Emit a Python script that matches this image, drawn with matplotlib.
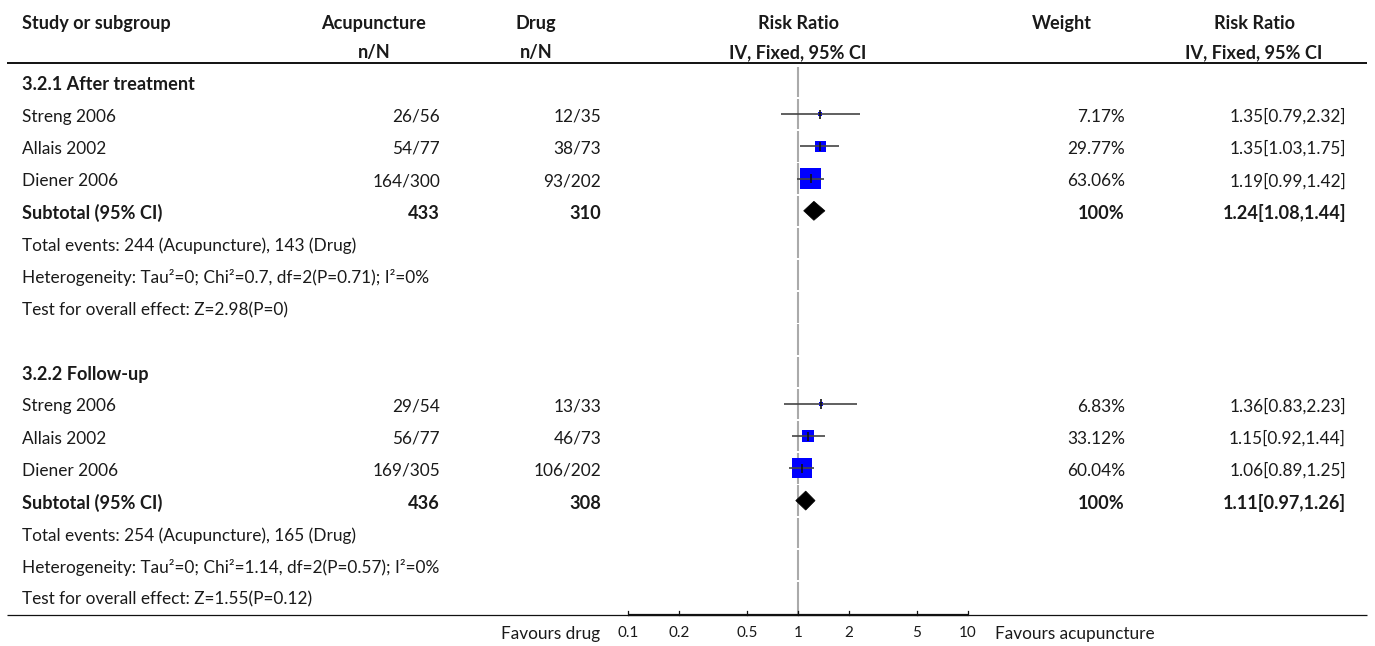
import matplotlib
matplotlib.use("Agg")
import matplotlib.pyplot as plt
import matplotlib.transforms as mtransforms
from matplotlib.patches import Polygon
import numpy as np

plt.rcParams['font.family'] = ['Lato', 'DejaVu Sans']

# ---------------- data ----------------
groups = ["3.2.1 After treatment", "3.2.2 Follow-up"]
studies = [["Streng 2006", "Allais 2002", "Diener 2006"],
           ["Streng 2006", "Allais 2002", "Diener 2006"]]
acu_nN = [["26/56", "54/77", "164/300"], ["29/54", "56/77", "169/305"]]
drug_nN = [["12/35", "38/73", "93/202"], ["13/33", "46/73", "106/202"]]
rr = [[1.35, 1.35, 1.19], [1.36, 1.15, 1.06]]
rr_lo = [[0.79, 1.03, 0.99], [0.83, 0.92, 0.89]]
rr_hi = [[2.32, 1.75, 1.42], [2.23, 1.44, 1.25]]
weights = [[7.17, 29.77, 63.06], [6.83, 33.12, 60.04]]
acu_total = [433, 436]
drug_total = [310, 308]
sub_rr = [1.24, 1.11]
sub_lo = [1.08, 0.97]
sub_hi = [1.44, 1.26]
total_events = ["Total events: 244 (Acupuncture), 143 (Drug)",
                "Total events: 254 (Acupuncture), 165 (Drug)"]
heterogeneity = ["Heterogeneity: Tau²=0; Chi²=0.7, df=2(P=0.71); I²=0%",
                 "Heterogeneity: Tau²=0; Chi²=1.14, df=2(P=0.57); I²=0%"]
overall = ["Test for overall effect: Z=2.98(P=0)",
           "Test for overall effect: Z=1.55(P=0.12)"]
ticks = [0.1, 0.2, 0.5, 1, 2, 5, 10]
tick_labels = ["0.1", "0.2", "0.5", "1", "2", "5", "10"]

# ---------------- layout ----------------
W, H = 1375, 646
DPI = 100
fig = plt.figure(figsize=(W / DPI, H / DPI), dpi=DPI)
ax = fig.add_axes([0, 0, 1, 1])
ax.set_xscale('log')
x_one_px, px_per_dec = 798.0, 170.0
ax.set_xlim(10 ** (-x_one_px / px_per_dec), 10 ** ((W - x_one_px) / px_per_dec))
row0_px, row_h = 82.0, 32.2
ax.set_ylim((H - row0_px) / row_h, -row0_px / row_h)
ax.axis('off')

tr = mtransforms.blended_transform_factory(fig.transFigure, ax.transData)
def px(x):
    return x / W

FS = 12.4
FSB = 13.1
TXT = '#1a1a1a'
TEXT_SHIFT = 2.5 / row_h

def put(x, y, s, ha='left', bold=False, size=None):
    if size is None:
        size = FSB if bold else FS
    ax.text(px(x), y + TEXT_SHIFT, s, transform=tr, ha=ha, va='center', fontsize=size,
            fontweight='bold' if bold else 'normal', color=TXT)

# headers
hy1, hy2 = (21 - row0_px) / row_h, (50 - row0_px) / row_h
put(22, hy1, "Study or subgroup", bold=True)
put(374, hy1, "Acupuncture", ha='center', bold=True)
put(374, hy2, "n/N", ha='center', bold=True)
put(536, hy1, "Drug", ha='center', bold=True)
put(536, hy2, "n/N", ha='center', bold=True)
put(798, hy1, "Risk Ratio", ha='center', bold=True)
put(798, hy2, "IV, Fixed, 95% CI", ha='center', bold=True)
put(1062, hy1, "Weight", ha='center', bold=True)
put(1254, hy1, "Risk Ratio", ha='center', bold=True)
put(1254, hy2, "IV, Fixed, 95% CI", ha='center', bold=True)

line_y = (63 - row0_px) / row_h
ax.plot([px(7), px(1367)], [line_y, line_y], transform=tr, color='#111111', lw=1.4,
        solid_capstyle='butt')

# rows
n_rows = 17
axis_y = (615 - row0_px) / row_h
# reference line at RR=1, segmented per row
for r in range(-1, n_rows):
    if r == -1:
        y0, y1 = line_y + 0.06, -0.5 - 0.03
    else:
        y0, y1 = r - 0.5 + 0.03, r + 0.5 - 0.03
    if r == n_rows - 1:
        y1 = axis_y
    ax.plot([1, 1], [y0, y1], color='#aaaaaa', lw=1.5, solid_capstyle='butt', zorder=1)

for g in range(2):
    base = g * 9
    put(22, base, groups[g], bold=True)
    for i in range(3):
        y = base + 1 + i
        put(22, y, studies[g][i])
        put(440, y, acu_nN[g][i], ha='right')
        put(601, y, drug_nN[g][i], ha='right')
        put(1125, y, f"{weights[g][i]:.2f}%", ha='right')
        put(1346, y, f"{rr[g][i]:.2f}[{rr_lo[g][i]:.2f},{rr_hi[g][i]:.2f}]", ha='right')
        side_pt = (2 + 0.3 * weights[g][i]) * 72 / DPI
        ax.scatter([rr[g][i]], [y], marker='s', s=side_pt ** 2, color='#0000ff',
                   edgecolors='none', zorder=3)
        ax.plot([rr_lo[g][i], rr_hi[g][i]], [y, y], color='#444444', lw=1.2,
                solid_capstyle='butt', zorder=4)
        ax.plot([rr[g][i], rr[g][i]], [y - 0.14, y + 0.14], color='#111111', lw=1.2,
                solid_capstyle='butt', zorder=5)
    ys = base + 4
    put(22, ys, "Subtotal (95% CI)", bold=True)
    put(440, ys, str(acu_total[g]), ha='right', bold=True)
    put(601, ys, str(drug_total[g]), ha='right', bold=True)
    put(1125, ys, "100%", ha='right', bold=True)
    put(1346, ys, f"{sub_rr[g]:.2f}[{sub_lo[g]:.2f},{sub_hi[g]:.2f}]", ha='right', bold=True)
    dh = 9.5 / row_h
    diamond = Polygon([[sub_lo[g], ys], [sub_rr[g], ys - dh], [sub_hi[g], ys],
                       [sub_rr[g], ys + dh]], closed=True, facecolor='black',
                      edgecolor='black', lw=0.5, zorder=3)
    ax.add_patch(diamond)
    put(22, base + 5, total_events[g])
    put(22, base + 6, heterogeneity[g])
    put(22, base + 7, overall[g])

# bottom axis
ax.plot([px(7), px(1367)], [axis_y, axis_y], transform=tr, color='#111111', lw=0.9,
        solid_capstyle='butt')
ax.plot([ticks[0], ticks[-1]], [axis_y, axis_y], color='#111111', lw=1.6,
        solid_capstyle='butt')
tick_len = 4.5 / row_h
lab_y = (632 - row0_px) / row_h
for t, lab in zip(ticks, tick_labels):
    ax.plot([t, t], [axis_y, axis_y - tick_len], color='#111111', lw=0.9)
    ax.text(t, lab_y + TEXT_SHIFT * 0.6, lab, ha='center', va='center', fontsize=11,
            color=TXT)
put(600, lab_y, "Favours drug", ha='right')
put(995, lab_y, "Favours acupuncture", ha='left')

fig.savefig("out.png", dpi=DPI)
